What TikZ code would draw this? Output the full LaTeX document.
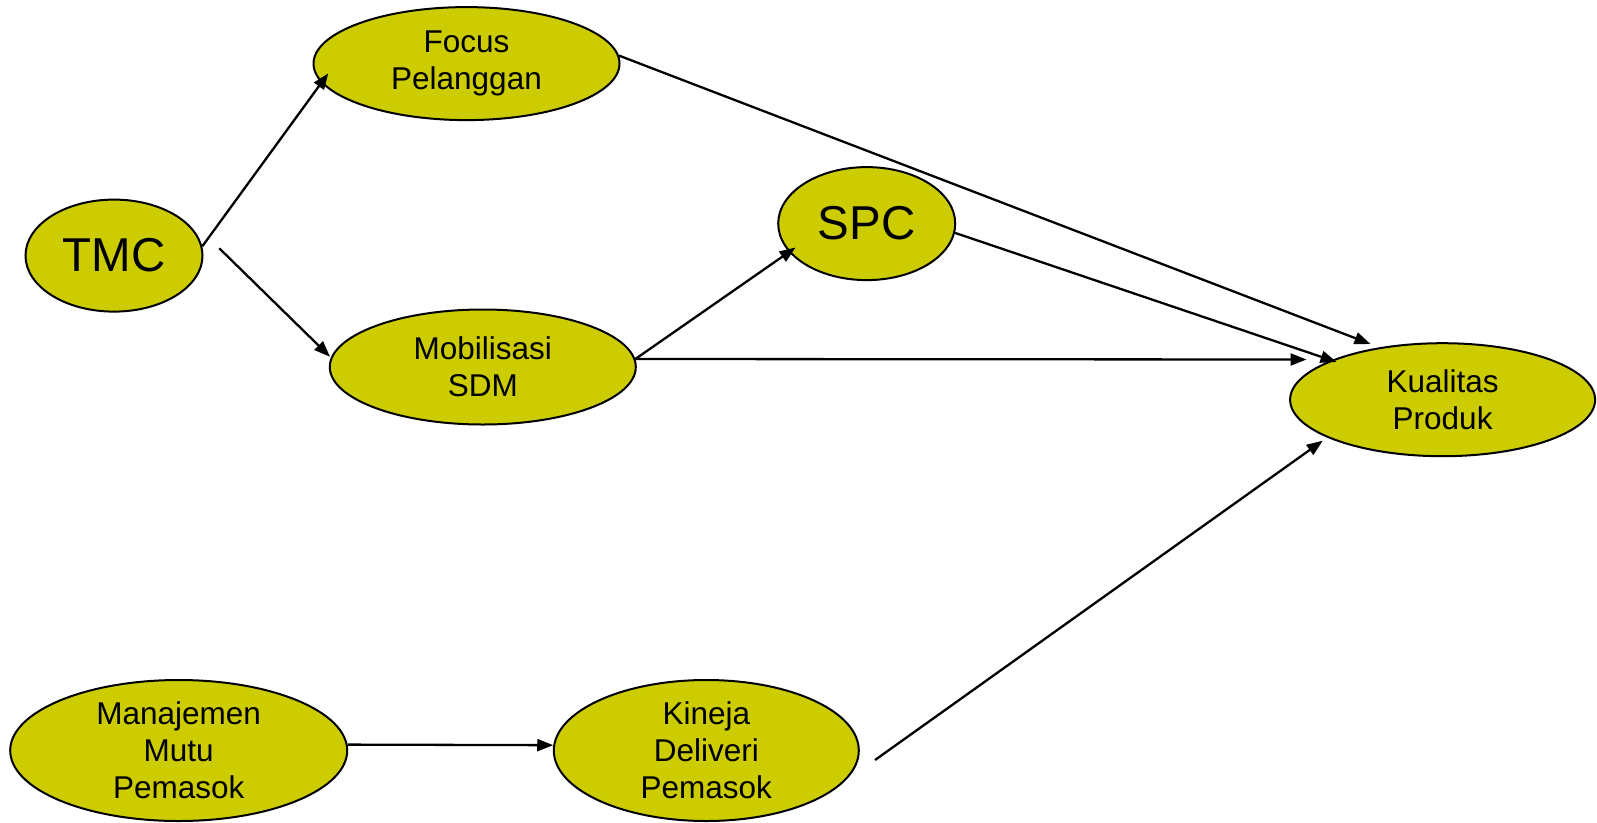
\documentclass[tikz,border=0pt]{standalone}
\usepackage{fontspec}
\setmainfont{Liberation Sans}
\usetikzlibrary{shapes.geometric,arrows.meta}
\definecolor{factorYellow}{HTML}{CCCC00}
\tikzset{
        % Factor nodes
        node_factor/.style={ellipse, draw=black, line width=2pt, fill=factorYellow, align=center,
            inner sep=0pt, inner ysep=-40pt, font=\fontsize{31.5}{37}\selectfont},
        % Big factor nodes
        node_big/.style={node_factor, font=\fontsize{47.5}{55}\selectfont},
        % Arrows between factors
        link/.style={-{Triangle[length=16pt,width=12pt]}, line width=2.3pt}
}
\begin{document}
\begin{tikzpicture}[x=1pt, y=-1pt]
    \useasboundingbox (0,0) rectangle (1597,822);
    % factors
    \node[node_big, minimum width=177pt, minimum height=112pt] (tmc) at (114,255.6) {TMC};
    \node[node_factor, minimum width=306pt, minimum height=113pt] (focus) at (466.5,63.6) {Focus\\Pelanggan};
    \node[node_factor, minimum width=306pt, minimum height=115pt] (mob) at (482.8,367) {Mobilisasi\\SDM};
    \node[node_big, minimum width=177pt, minimum height=113pt] (spc) at (866.7,223.6) {SPC};
    \node[node_factor, minimum width=305pt, minimum height=113pt] (kp) at (1442.6,399.7) {Kualitas\\Produk};
    \node[node_factor, minimum width=337pt, minimum height=141pt] (mmp) at (178.7,750.5) {Manajemen\\Mutu\\Pemasok};
    \node[node_factor, minimum width=305pt, minimum height=141pt] (kdp) at (706.3,750.5) {Kineja\\Deliveri\\Pemasok};
    % free ends of arrows
    \coordinate (tmc_out) at (219.3,248.3);
    \coordinate (kdp_out) at (875,760);
    \coordinate (focus_in) at (328.3,73.3);
    \coordinate (mob_in) at (330,356.7);
    \coordinate (spc_in) at (795.5,247.5);
    \coordinate (kp_in1) at (1370.5,344);
    \coordinate (kp_in2) at (1336.5,362);
    \coordinate (kp_in3) at (1306.5,359.5);
    \coordinate (kp_in4) at (1322.7,440.7);
    % arrows
    \draw[link] (tmc.6) -- (focus_in);
    \draw[link] (tmc_out) -- (mob_in);
    \draw[link] (mob.3) -- (spc_in);
    \draw[link] (mob.3) -- (kp_in3);
    \draw[link] (focus.3) -- (kp_in1);
    \draw[link] (spc.-6) -- (kp_in2);
    \draw[link] (mmp.2) -- (kdp.178);
    \draw[link] (kdp_out) -- (kp_in4);
\end{tikzpicture}
\end{document}
